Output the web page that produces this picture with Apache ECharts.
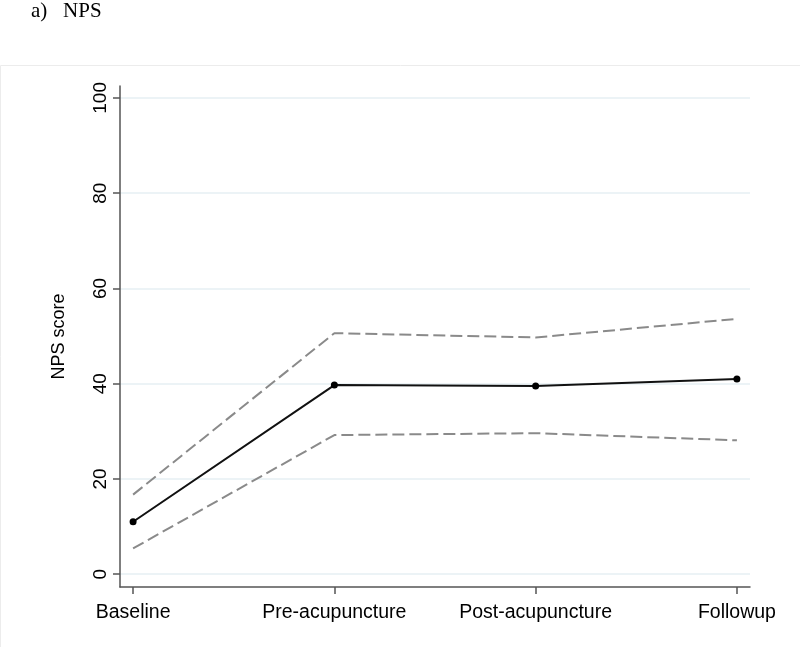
<!DOCTYPE html>
<html>
<head>
<meta charset="utf-8">
<script src="https://cdn.jsdelivr.net/npm/echarts@6/dist/echarts.min.js"></script>
<style>html,body{margin:0;padding:0;background:#fff;}#c{width:800px;height:647px;}</style>
</head>
<body>
<div id="c"></div>
<script>
const categories = ['Baseline', 'Pre-acupuncture', 'Post-acupuncture', 'Followup'];
const meanScore = [11.0, 39.7, 39.5, 41.0];
const upperCI = [16.7, 50.6, 49.7, 53.6];
const lowerCI = [5.4, 29.2, 29.6, 28.1];
const yTicks = [0, 20, 40, 60, 80, 100];

const toPts = arr => arr.map((v, i) => [i, v]);
const chart = echarts.init(document.getElementById('c'), null, {renderer: 'canvas'});
const font = 'Liberation Sans, Arial, sans-serif';
chart.setOption({
  animation: false,
  title: {
    text: 'a)   NPS', left: 26, top: -4,
    textStyle: {fontFamily: 'Liberation Serif, Times New Roman, serif', fontWeight: 'normal', fontSize: 21, color: '#000'}
  },
  graphic: [{
    type: 'rect', shape: {x: 0.5, y: 65.5, width: 830, height: 600},
    style: {fill: 'none', stroke: '#ececec', lineWidth: 1}, silent: true, z: -10
  }],
  grid: {left: 120, right: 50, top: 86, bottom: 60},
  xAxis: {
    type: 'value', min: -0.065, max: 3.065,
    axisLine: {show: true, onZero: false, lineStyle: {color: '#555', width: 1.5}},
    axisTick: {show: true, length: 7, customValues: [0, 1, 2, 3], lineStyle: {color: '#555', width: 1.5}},
    axisLabel: {customValues: [0, 1, 2, 3], formatter: v => categories[Math.round(v)] || '', fontFamily: font, fontSize: 19.5, color: '#000', margin: 16},
    splitLine: {show: false}
  },
  yAxis: {
    type: 'value', min: -2.7, max: 102.5,
    name: 'NPS score', nameLocation: 'middle', nameGap: 52, nameRotate: 90,
    nameTextStyle: {fontFamily: font, fontSize: 18, color: '#000'},
    axisLine: {show: true, onZero: false, lineStyle: {color: '#555', width: 1.5}},
    axisTick: {show: true, length: 7, customValues: yTicks, lineStyle: {color: '#555', width: 1.5}},
    axisLabel: {customValues: yTicks, rotate: 90, fontFamily: font, fontSize: 19, color: '#000', margin: 10},
    splitLine: {show: false}
  },
  series: [
    {
      type: 'line', data: toPts(upperCI), symbol: 'none', silent: true,
      lineStyle: {color: '#8a8a8a', width: 2, type: [12, 5]},
      markLine: {
        silent: true, symbol: 'none', label: {show: false},
        lineStyle: {color: '#e6eff3', width: 1.5, type: 'solid'},
        data: yTicks.map(t => ({yAxis: t})), z: 0
      }, z: 2
    },
    {
      type: 'line', data: toPts(lowerCI), symbol: 'none', silent: true,
      lineStyle: {color: '#8a8a8a', width: 2, type: [12, 5]}, z: 2
    },
    {
      type: 'line', data: toPts(meanScore), symbol: 'circle', symbolSize: 7, silent: true,
      itemStyle: {color: '#000'}, lineStyle: {color: '#111', width: 2}, z: 3
    }
  ]
});
</script>
</body>
</html>
